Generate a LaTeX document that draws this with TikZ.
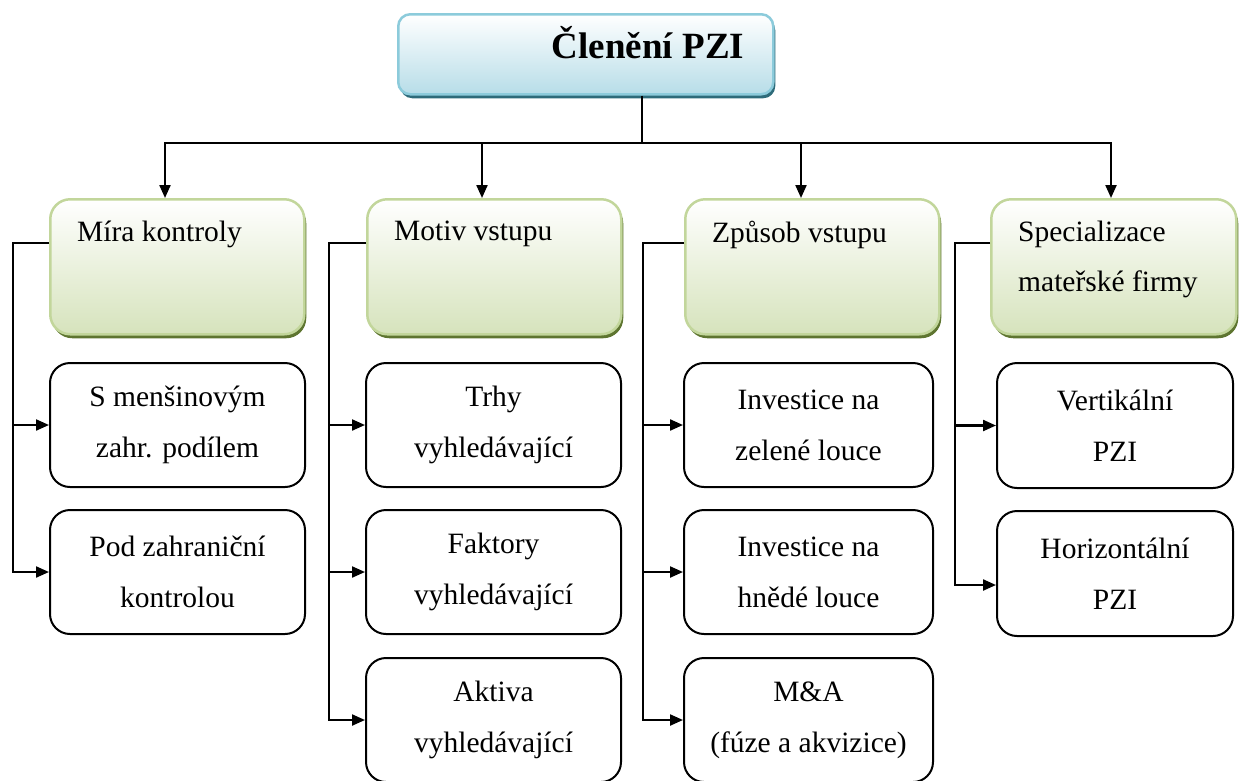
\documentclass[tikz,border=0pt]{standalone}
\usepackage{fontspec}
\setmainfont{Liberation Serif}
\usetikzlibrary{arrows.meta,shadows}
\definecolor{topfill}{HTML}{B7DDE8}
\definecolor{topline}{HTML}{8CCBDB}
\definecolor{topshadow}{HTML}{2E6B7A}
\definecolor{catfill}{HTML}{D6E3BC}
\definecolor{catline}{HTML}{C2D69B}
\definecolor{catshadow}{HTML}{5E7530}
\begin{document}
\begin{tikzpicture}[x=1pt,y=-1pt,
  topbox/.style={draw=topline, line width=2.5pt, rounded corners=12pt,
    top color=white, bottom color=topfill, minimum width=375pt, minimum height=80pt,
    anchor=north west, inner sep=0pt,
    drop shadow={shadow xshift=2pt, shadow yshift=-4pt, fill=topshadow, opacity=1}},
  catbox/.style={draw=catline, line width=2.5pt, rounded corners=20pt,
    top color=white, bottom color=catfill, minimum height=135pt,
    anchor=north west, inner sep=0pt,
    drop shadow={shadow xshift=2pt, shadow yshift=-4pt, fill=catshadow, opacity=1}},
  kidbox/.style={draw=black, line width=2pt, rounded corners=20pt, fill=white,
    minimum height=124pt, anchor=north west, align=center, inner sep=0pt,
    font=\fontsize{29.5}{51}\selectfont},
  cattext/.style={anchor=north west, inner sep=0pt, align=left,
    font=\fontsize{29.5}{50}\selectfont},
  link/.style={line width=2.2pt},
  arr/.style={link, -{Triangle[length=13pt,width=11pt]}}
]
\useasboundingbox (0,0) rectangle (1241,780);
\clip (0,0) rectangle (1241,780);

% top box
\node[topbox] (top) at (397,13) {};
\node[anchor=base, inner sep=0pt, font=\fontsize{37}{40}\selectfont\bfseries] (title) at (648,58) {Členění PZI};

% categories
\node[catbox, minimum width=254pt] (c1) at (49,198) {};
\node[catbox, minimum width=254pt] (c2) at (366,198) {};
\node[catbox, minimum width=254pt] (c3) at (684,198) {};
\node[catbox, minimum width=245pt] (c4) at (990,198) {};
\node[cattext] (t1) at (77,221) {Míra kontroly};
\node[cattext] (t2) at (394,221) {Motiv vstupu};
\node[cattext] (t3) at (712,221) {Způsob vstupu};
\node[cattext] (t4) at (1018,221) {Specializace\\mateřské firmy};

% children
\node[kidbox, minimum width=255pt] (k11) at (49,362) {S menšinovým\\zahr. podílem};
\node[kidbox, minimum width=255pt] (k12) at (49,509) {Pod zahraniční\\kontrolou};
\node[kidbox, minimum width=255pt] (k21) at (365,362) {Trhy\\vyhledávající};
\node[kidbox, minimum width=255pt] (k22) at (365,509) {Faktory\\vyhledávající};
\node[kidbox, minimum width=255pt] (k23) at (365,657) {Aktiva\\vyhledávající};
\node[kidbox, minimum width=249pt] (k31) at (683,362) {Investice na\\zelené louce};
\node[kidbox, minimum width=249pt] (k32) at (683,509) {Investice na\\hnědé louce};
\node[kidbox, minimum width=249pt] (k33) at (683,657) {M\&A\\(fúze a akvizice)};
\node[kidbox, minimum width=236pt, minimum height=125pt] (k41) at (996,362) {Vertikální\\PZI};
\node[kidbox, minimum width=236pt, minimum height=125pt] (k42) at (996,510) {Horizontální\\PZI};

% trunk
\coordinate (j) at (642,143);
\coordinate (a1) at (165,143);
\coordinate (a2) at (482,143);
\coordinate (a3) at (801,143);
\coordinate (a4) at (1111,143);
\draw[link] (top.south -| j) -- (j);
\draw[link, line cap=rect] (a1) -- (a4);
\draw[arr] (a1) -- (a1 |- c1.north);
\draw[arr] (a2) -- (a2 |- c2.north);
\draw[arr] (a3) -- (a3 |- c3.north);
\draw[arr] (a4) -- (a4 |- c4.north);

% rails
\coordinate (r1) at (13,243);
\coordinate (r2) at (329,243);
\coordinate (r3) at (643,243);
\coordinate (r4) at (955,243);
\coordinate (q42) at (0,585);

\draw[arr] (c1.west |- r1) -- (r1) -- (r1 |- k12.west) -- (k12.west);
\draw[arr] (r1 |- k11.west) -- (k11.west);

\draw[arr] (c2.west |- r2) -- (r2) -- (r2 |- k23.west) -- (k23.west);
\draw[arr] (r2 |- k21.west) -- (k21.west);
\draw[arr] (r2 |- k22.west) -- (k22.west);

\draw[arr] (c3.west |- r3) -- (r3) -- (r3 |- k33.west) -- (k33.west);
\draw[arr] (r3 |- k31.west) -- (k31.west);
\draw[arr] (r3 |- k32.west) -- (k32.west);

\draw[arr] (c4.west |- r4) -- (r4) -- (r4 |- q42) -- (k42.west |- q42);
\draw[arr] (r4 |- k41.west) -- (k41.west);
\end{tikzpicture}
\end{document}
